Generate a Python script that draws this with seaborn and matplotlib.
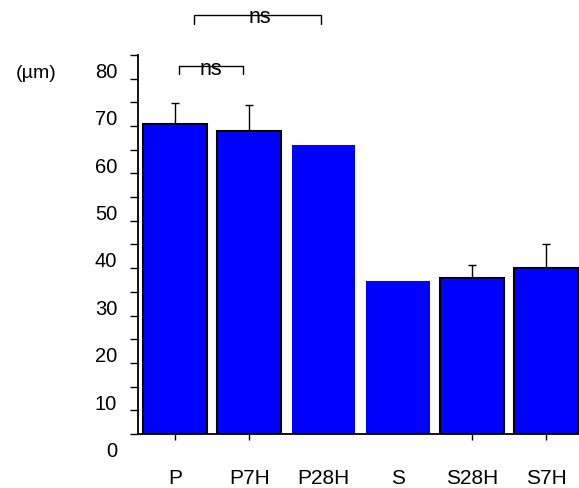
import numpy as np
import pandas as pd
import matplotlib
matplotlib.use("Agg")
import matplotlib.pyplot as plt
import matplotlib.transforms as mtransforms
from matplotlib.ticker import MultipleLocator
import seaborn as sns

# data
groups = ["P", "P7H", "P28H", "S", "S28H", "S7H"]
means = [65.4, 63.9, 61.0, 32.3, 32.9, 35.0]
errors = [4.5, 5.5, 0.0, 0.0, 2.8, 5.0]
outlined = [True, True, False, False, True, True]
ticked = [True, True, False, False, True, True]

df = pd.DataFrame({"group": groups, "mean": means})

sns.set_style("white")
plt.rcParams["font.family"] = ["Liberation Sans", "DejaVu Sans"]
plt.rcParams["text.color"] = "black"
plt.rcParams["axes.labelcolor"] = "black"
plt.rcParams["xtick.color"] = "black"
plt.rcParams["ytick.color"] = "black"

fig = plt.figure(figsize=(5.79, 4.88), dpi=100)
ax = fig.add_axes([0.2383, 0.1107, 0.7612, 0.7766])

sns.barplot(data=df, x="group", y="mean", order=groups, color="#0000ff",
            saturation=1, width=0.86, errorbar=None, ax=ax, zorder=2)

# edges only on some bars
for patch, has_edge in zip(ax.patches, outlined):
    if has_edge:
        patch.set_edgecolor("black")
        patch.set_linewidth(1.5)
    else:
        patch.set_edgecolor("none")

# upper error bars
xs = np.arange(len(groups))
for x, m, e in zip(xs, means, errors):
    if e > 0:
        ax.errorbar(x, m, yerr=[[0], [e]], fmt="none", ecolor="black",
                    elinewidth=1.0, capsize=3, capthick=1.0, zorder=1)

ax.set_xlim(-0.5, 5.44)
ax.set_ylim(0, 80)
ax.yaxis.set_major_locator(MultipleLocator(10))
ax.yaxis.set_minor_locator(MultipleLocator(5))

for side in ["top", "right"]:
    ax.spines[side].set_visible(False)
for side in ["left", "bottom"]:
    ax.spines[side].set_linewidth(1.3)
    ax.spines[side].set_color("black")

ax.tick_params(axis="y", which="both", direction="out", length=6, width=1.0,
               color="black", left=True, labelsize=14.5, labelcolor="black", pad=9)
ax.tick_params(axis="x", direction="out", length=4, width=1.0, color="black",
               bottom=True, labelsize=15, labelcolor="black", pad=21)

for tick, show in zip(ax.xaxis.get_major_ticks(), ticked):
    tick.tick1line.set_visible(show)

# y labels sit a bit below their ticks
offset = mtransforms.ScaledTranslation(0, -0.155, fig.dpi_scale_trans)
for lab in ax.get_yticklabels():
    lab.set_transform(lab.get_transform() + offset)

ax.set_xlabel("")
ax.set_ylabel("(µm)", rotation=0, fontsize=14, color="black", labelpad=0)
ax.yaxis.set_label_coords(-0.23, 0.93)

# significance brackets
brackets = [(0.053, 0.915, 77.7, 76.0, 0.484, 75.8),
            (0.255, 1.966, 88.4, 86.5, 1.144, 86.8)]
for x0, x1, top, low, tx, ty in brackets:
    ax.plot([x0, x0, x1, x1], [low, top, top, low], color="black", lw=1.0,
            clip_on=False, zorder=3)
    ax.text(tx, ty, "ns", ha="center", va="baseline", fontsize=15.5,
            color="black", clip_on=False, zorder=4)

fig.savefig("out.png", dpi=100)
